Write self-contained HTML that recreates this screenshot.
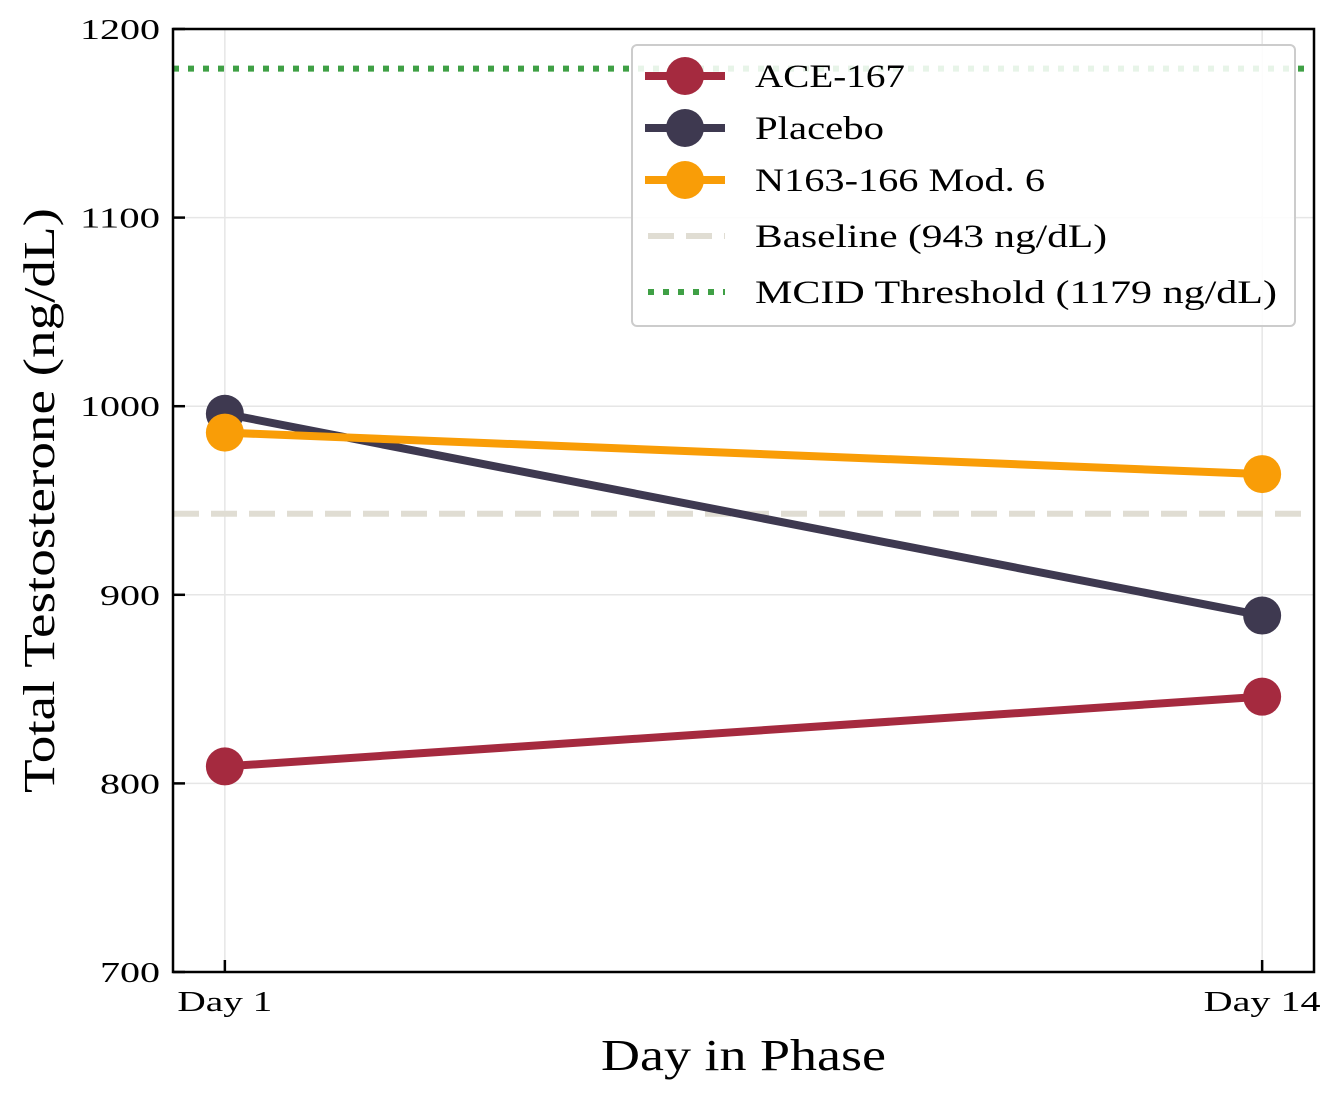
<!DOCTYPE html>
<html><head><meta charset="utf-8"><style>
body{margin:0;background:#fff}
svg text{font-family:"Liberation Serif",serif;fill:#000}
</style></head><body>
<svg id="chart" width="1337" height="1097" xmlns="http://www.w3.org/2000/svg"></svg>
<script>
const categories = ["Day 1", "Day 14"];
const seriesNames = ["ACE-167", "Placebo", "N163-166 Mod. 6"];
const ace = [809, 846];
const placebo = [996, 889];
const n163 = [986, 964];
const yTicks = [700, 800, 900, 1000, 1100, 1200];
const baseline = [943];
const mcid = [1179];

const svg = document.getElementById('chart');
const NS = 'http://www.w3.org/2000/svg';
const L = 173, R = 1314, T = 29, B = 972;
function xS(i){ return L + (i + 0.05) / 1.1 * (R - L); }
function yS(v){ return B - (v - 700) / 500 * (B - T); }
function mk(tag, attrs, parent){
  const e = document.createElementNS(NS, tag);
  for (const k in attrs) e.setAttribute(k, attrs[k]);
  (parent || svg).appendChild(e);
  return e;
}
yTicks.forEach(v => {
  const g = mk('line', {x1:L, x2:R, y1:yS(v), y2:yS(v), stroke:'#e6e6e6', 'stroke-width':1.5});
  
  
});
categories.forEach((c, i) => {
  const g = mk('line', {x1:xS(i), x2:xS(i), y1:T, y2:B, stroke:'#e6e6e6', 'stroke-width':1.5});
  
  
});
const bl = mk('line', {x1:L, x2:R, y1:yS(baseline[0]), y2:yS(baseline[0]), stroke:'#e0ddd3', 'stroke-width':6, 'stroke-dasharray':'26 12'});


const ml = mk('line', {x1:L, x2:R, y1:yS(mcid[0]), y2:yS(mcid[0]), stroke:'#3fa045', 'stroke-width':6, 'stroke-dasharray':'6 9'});


const colors = ['#a52a3f', '#3e3950', '#f99d07'];
const allSeries = [ace, placebo, n163];
const sNames = ['ace-167-series', 'placebo-series', 'n163-166-series'];
allSeries.forEach((vals, s) => {
  const g = mk('g', {});
  
  
  const pts = vals.map((v, i) => xS(i) + ',' + yS(v)).join(' ');
  const pl = mk('polyline', {points:pts, fill:'none', stroke:colors[s], 'stroke-width':8}, g);
  
  
  vals.forEach((v, i) => {
    const c = mk('circle', {cx:xS(i), cy:yS(v), r:19, fill:colors[s]}, g);
    
    
  });
});
const fr = mk('rect', {x:L, y:T, width:R-L, height:B-T, fill:'none', stroke:'#000', 'stroke-width':2.5});


yTicks.forEach(v => {
  const t = mk('line', {x1:L, x2:L+12, y1:yS(v), y2:yS(v), stroke:'#000', 'stroke-width':2.5});
  
  
  const s = String(v);
  const tx = mk('text', {x:L-13, y:yS(v)+10, 'text-anchor':'end', 'font-size':29, textLength:s.length*20, lengthAdjust:'spacingAndGlyphs'});
  tx.textContent = s;
  
  
});
categories.forEach((c, i) => {
  const t = mk('line', {x1:xS(i), x2:xS(i), y1:B, y2:B-12, stroke:'#000', 'stroke-width':2.5});
  
  
  const tx = mk('text', {x:xS(i), y:B+39, 'text-anchor':'middle', 'font-size':29, textLength:i === 0 ? 95 : 117, lengthAdjust:'spacingAndGlyphs'});
  tx.textContent = c;
  
  
});
const xt = mk('text', {x:(L+R)/2, y:1070, 'text-anchor':'middle', 'font-size':44, textLength:285, lengthAdjust:'spacingAndGlyphs'});
xt.textContent = 'Day in Phase';


const yt = mk('text', {x:0, y:0, 'text-anchor':'middle', 'font-size':44, textLength:585, lengthAdjust:'spacingAndGlyphs', transform:'translate(54,'+((T+B)/2)+') rotate(-90)'});
yt.textContent = 'Total Testosterone (ng/dL)';


const lg = mk('g', {});


mk('rect', {x:632, y:45, width:663, height:281, rx:5, fill:'rgba(255,255,255,0.88)', stroke:'#ccc', 'stroke-width':2}, lg);
const legLabels = ['ACE-167', 'Placebo', 'N163-166 Mod. 6', 'Baseline (943 ng/dL)', 'MCID Threshold (1179 ng/dL)'];
const legW = [150, 129, 290, 352, 522];
const legY = [76, 128, 180, 236, 292];
legLabels.forEach((lab, k) => {
  const e = mk('g', {}, lg);
  
  
  const y = legY[k];
  if (k < 3) {
    mk('line', {x1:645, x2:725, y1:y, y2:y, stroke:colors[k], 'stroke-width':8}, e);
    mk('circle', {cx:685, cy:y, r:19, fill:colors[k]}, e);
  } else if (k === 3) {
    mk('line', {x1:648, x2:725, y1:y, y2:y, stroke:'#e0ddd3', 'stroke-width':6, 'stroke-dasharray':'26 12'}, e);
  } else {
    mk('line', {x1:648, x2:725, y1:y, y2:y, stroke:'#3fa045', 'stroke-width':6, 'stroke-dasharray':'6 9'}, e);
  }
  const tx = mk('text', {x:755, y:y+11, 'font-size':33, textLength:legW[k], lengthAdjust:'spacingAndGlyphs'}, e);
  tx.textContent = lab;
});
</script>
</body></html>
